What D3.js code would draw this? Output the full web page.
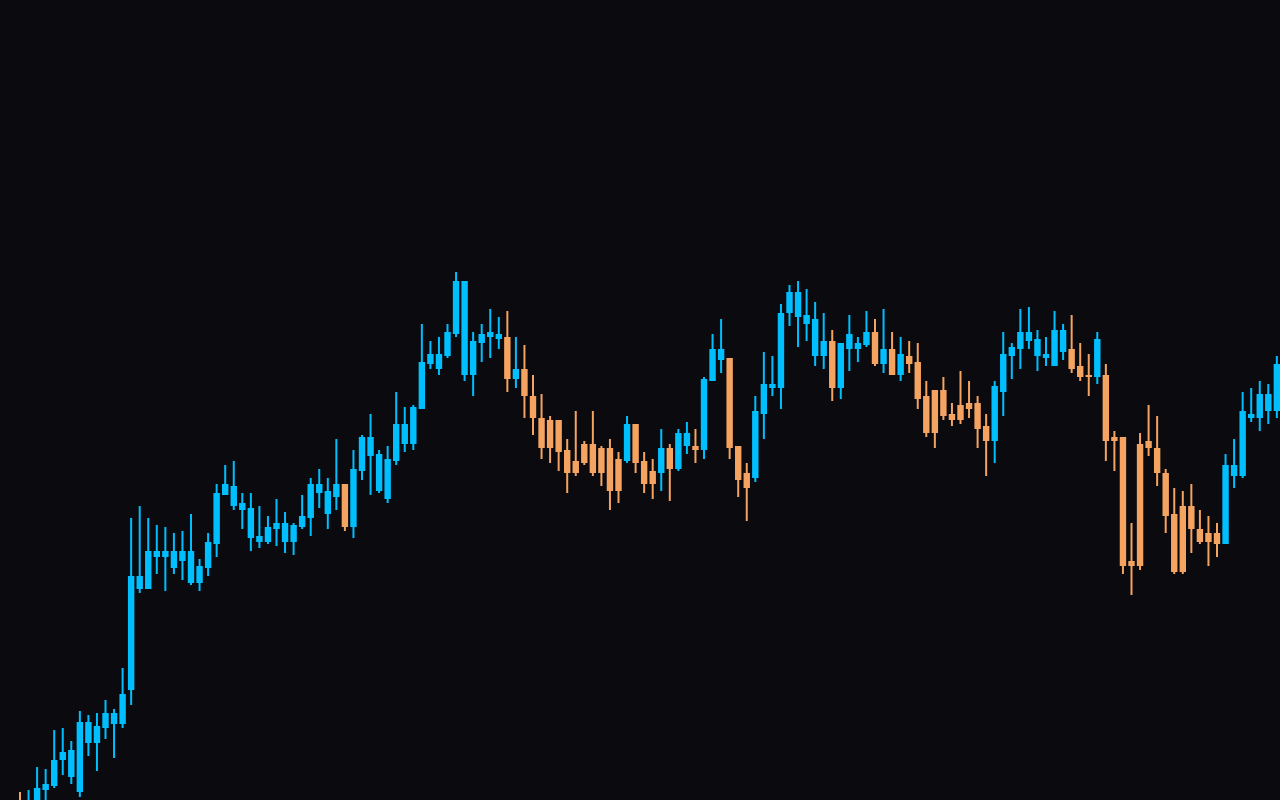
<!DOCTYPE html>
<html>
<head>
<meta charset="utf-8">
<script src="https://cdn.jsdelivr.net/npm/d3@7"></script>
<style>
  html, body { margin: 0; padding: 0; background: #0a0a0f; overflow: hidden; }
  svg { display: block; }
</style>
</head>
<body>
<svg id="chart" width="1280" height="800"></svg>
<script>
const openV = [19.0,18.4,18.8,22.0,22.8,28.0,24.6,21.6,31.4,31.4,34.4,35.2,35.2,42.0,62.2,62.2,68.6,68.6,66.4,67.8,
63.4,63.4,66.4,71.2,81.0,78.8,78.0,72.4,71.6,71.6,74.2,71.6,71.6,74.6,76.4,81.4,77.2,80.6,83.2,74.6,
85.8,88.8,81.8,80.2,87.8,91.2,91.2,98.2,107.2,106.2,108.8,113.2,105.0,105.0,111.4,112.6,112.2,112.6,104.2,106.2,
100.8,96.4,96.0,96.0,90.0,87.8,91.2,91.2,90.4,90.4,88.2,87.8,95.2,87.8,85.8,85.4,90.4,86.2,90.8,90.8,
90.0,103.8,108.0,108.4,90.8,85.4,84.4,97.2,102.4,102.4,117.4,116.6,115.2,108.8,108.8,111.8,102.4,110.2,110.2,111.0,
113.6,107.2,110.2,105.0,108.8,107.6,100.8,102.0,102.0,97.2,99.0,99.4,99.4,94.8,91.8,101.6,108.8,110.2,111.8,108.8,
108.4,106.8,109.6,110.2,106.8,105.0,104.6,105.0,92.6,92.6,67.8,91.2,91.8,90.4,85.4,77.2,78.8,78.8,74.2,73.4,
73.4,71.2,84.8,84.8,96.4,96.4,97.8,97.8];
const highV = [21.6,22.0,26.6,26.2,34.0,34.4,31.8,37.8,37.0,37.4,40.0,38.2,46.4,76.4,78.8,76.4,75.0,74.6,73.4,73.8,
77.2,68.2,73.4,83.2,87.0,87.8,81.4,81.4,78.8,76.8,80.2,77.6,75.4,81.0,84.4,86.2,84.4,92.2,83.2,90.0,
93.0,97.2,90.0,90.8,101.6,98.6,99.0,115.2,111.8,112.6,115.2,125.6,123.8,113.6,115.2,118.2,116.6,117.8,112.6,111.0,
105.0,101.2,96.8,96.0,92.2,97.8,91.8,97.8,90.8,92.2,89.6,96.8,95.2,89.6,88.2,94.2,91.2,94.2,95.6,94.2,
104.6,113.2,116.2,108.4,90.8,87.4,100.8,109.6,108.8,119.2,123.0,123.8,122.2,119.6,117.4,114.0,111.4,117.0,112.6,117.8,
116.2,118.2,113.6,112.6,111.8,111.4,103.8,102.0,104.6,99.4,105.8,103.8,100.8,97.2,103.8,113.6,111.4,118.2,118.6,114.0,
112.6,117.8,115.2,117.0,111.4,109.2,113.6,107.2,93.8,92.6,75.4,93.4,99.0,96.8,86.2,82.4,81.8,83.2,78.0,76.8,
75.4,89.2,92.2,101.6,102.4,103.8,103.2,108.8];
const lowV = [15.0,17.0,18.0,19.4,22.4,25.0,23.2,20.6,28.8,25.8,32.2,28.4,34.4,39.0,61.4,62.2,65.2,61.8,65.2,64.0,
63.0,61.8,64.8,68.6,81.0,78.0,74.2,69.8,70.4,71.2,70.8,69.4,69.0,74.2,72.8,78.4,74.2,78.0,73.8,72.4,
84.0,81.0,81.4,79.4,87.0,89.6,90.0,98.2,106.2,105.0,108.4,112.6,103.8,100.8,107.6,108.4,110.2,101.6,102.4,96.4,
93.0,88.2,87.4,85.8,81.4,84.8,87.0,84.8,82.8,78.0,79.4,87.4,85.4,81.4,80.2,81.8,79.8,85.8,89.2,87.4,
88.2,103.8,105.4,88.2,80.6,75.8,83.6,92.2,100.8,98.2,114.8,110.6,111.8,106.8,106.2,99.8,100.2,105.8,107.6,110.6,
106.8,105.4,105.0,103.8,105.4,98.2,92.6,90.4,96.0,94.8,95.2,96.4,90.4,84.8,87.4,96.8,104.2,106.2,110.2,105.8,
106.8,106.8,108.0,105.4,103.8,100.8,103.2,87.8,85.8,65.2,61.0,66.0,88.8,82.8,73.4,65.2,65.2,69.4,71.2,66.8,
68.6,71.2,82.4,84.4,95.6,93.8,95.2,96.4];
const closeV = [17.0,19.6,22.4,23.2,28.0,29.6,30.0,35.6,35.6,34.8,37.4,37.4,41.2,64.8,64.8,69.8,69.8,69.8,69.8,69.8,
69.8,66.8,71.6,81.4,83.2,82.8,79.4,78.4,72.8,74.6,75.4,75.4,75.0,76.8,83.2,83.2,81.8,83.2,74.6,86.2,
92.6,92.6,89.2,88.2,95.2,95.2,98.6,107.6,109.2,109.2,113.6,123.8,123.8,111.8,113.2,113.6,113.2,104.2,106.2,100.8,
96.4,90.4,90.4,89.6,85.4,85.4,87.4,85.4,85.4,81.8,81.8,95.2,87.4,83.2,83.2,90.4,86.2,93.4,93.4,90.0,
104.2,110.2,110.2,90.4,84.0,82.4,97.8,103.2,103.2,117.4,121.6,121.6,117.0,116.2,111.8,102.4,111.4,113.2,111.4,113.6,
107.2,110.2,105.0,109.2,107.2,100.2,93.4,93.4,96.8,96.0,96.0,98.2,94.2,91.8,102.8,109.2,110.6,113.6,113.6,112.2,
109.2,114.0,114.0,106.2,104.6,104.6,112.2,91.8,91.8,66.8,66.8,66.8,90.4,85.4,76.8,65.6,65.6,74.2,71.6,71.6,
71.2,87.0,87.0,97.8,97.2,101.2,101.2,107.2];

const W = 1280, H = 800;
const svg = d3.select("#chart");
svg.append("rect").attr("width", W).attr("height", H).attr("fill", "#0a0a0f");

const data = openV.map((o, i) => ({ i, o, h: highV[i], l: lowV[i], c: closeV[i] }));
const step = 8.55;
const x = d3.scaleBand()
  .domain(data.map(d => d.i))
  .range([20 - step / 2, 20 + (data.length - 1) * step + step / 2])
  .paddingInner(0.25)
  .paddingOuter(0.125);
const y = d3.scaleLinear().domain([20, 180]).range([800, 0]);

const up = "#00bfff", down = "#f4a460";
const g = svg.append("g");
const candle = g.selectAll("g.c").data(data).join("g").attr("class", "c");
candle.append("rect")
  .attr("x", d => x(d.i) + x.bandwidth() / 2 - 1)
  .attr("width", 2)
  .attr("y", d => y(d.h))
  .attr("height", d => Math.max(1, y(d.l) - y(d.h)))
  .attr("fill", d => d.c >= d.o ? up : down);
candle.append("rect")
  .attr("x", d => x(d.i))
  .attr("width", x.bandwidth())
  .attr("y", d => y(Math.max(d.o, d.c)))
  .attr("height", d => Math.max(1.5, Math.abs(y(d.o) - y(d.c))))
  .attr("fill", d => d.c >= d.o ? up : down);
</script>
</body>
</html>
